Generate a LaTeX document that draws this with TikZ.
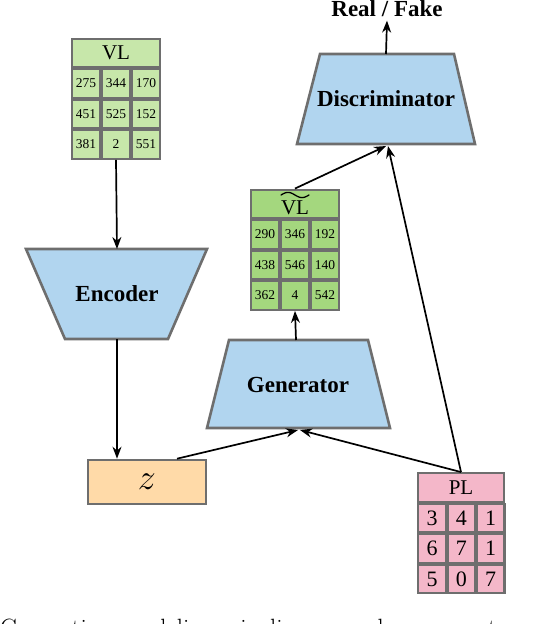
\documentclass[tikz,border=0pt]{standalone}
\usepackage{fontspec}
\usepackage{graphicx}
\setmainfont{Liberation Serif}
\newfontfamily\capfont{Latin Modern Roman}
\usetikzlibrary{arrows.meta}
\definecolor{bordergray}{HTML}{6E6E6E}
\definecolor{vlgreen}{HTML}{C7E7AA}
\definecolor{vltgreen}{HTML}{A4D77E}
\definecolor{plpink}{HTML}{F4B7C9}
\definecolor{zorange}{HTML}{FFDAA8}
\definecolor{netblue}{HTML}{B1D5EF}
\tikzset{
  cell/.style={draw=bordergray, line width=2.4pt, inner sep=0pt, minimum width=28pt, minimum height=28.5pt},
  headcell/.style={draw=bordergray, line width=2.4pt, inner sep=0pt, minimum width=88pt, minimum height=28.5pt},
  trap/.style={draw=bordergray, line width=2.6pt, fill=netblue},
  netlabel/.style={font=\bfseries\fontsize{23}{26}\selectfont},
  arr/.style={line width=1.7pt, -{Stealth[length=12pt,width=9pt]}},
}
\begin{document}
\begin{tikzpicture}[x=1pt,y=-1pt]
\useasboundingbox (0,0) rectangle (540,624);

% ---------- VL table ----------
\node[headcell, fill=vlgreen, font=\fontsize{21}{22}\selectfont] (vl) at (116,53) {VL};
\foreach \v [count=\i from 0] in {275,344,170,451,525,152,381,2,551} {
  \pgfmathtruncatemacro\c{mod(\i,3)}
  \pgfmathtruncatemacro\r{div(\i,3)}
  \node[cell, fill=vlgreen, font=\fontsize{13.5}{15}\selectfont] (vl-\i) at ({86+30*\c},{83.5+30.5*\r}) {\v};
}

% ---------- VL tilde table ----------
\node[headcell, fill=vltgreen, font=\fontsize{21}{22}\selectfont, text height=20pt, text depth=0pt] (vlt) at (295,204) {VL};
\draw[line width=1.3pt, line cap=round, shift={(295,195)}]
  plot[domain=-14:14, smooth, samples=29] (\x, {2.6*sin(\x*180/14)});
\foreach \v [count=\i from 0] in {290,346,192,438,546,140,362,4,542} {
  \pgfmathtruncatemacro\c{mod(\i,3)}
  \pgfmathtruncatemacro\r{div(\i,3)}
  \node[cell, fill=vltgreen, font=\fontsize{13.5}{15}\selectfont] (vlt-\i) at ({265+30*\c},{234.5+30.5*\r}) {\v};
}

% ---------- PL table ----------
\node[headcell, minimum width=86pt, fill=plpink, font=\fontsize{21}{22}\selectfont] (pl) at (461,487.5) {PL};
\foreach \v [count=\i from 0] in {3,4,1,6,7,1,5,0,7} {
  \pgfmathtruncatemacro\c{mod(\i,3)}
  \pgfmathtruncatemacro\r{div(\i,3)}
  \node[cell, minimum width=27.5pt, fill=plpink, font=\fontsize{22}{23}\selectfont] (pl-\i) at ({432+29.3*\c},{518+30.5*\r}) {\v};
}

% ---------- Encoder ----------
\draw[trap] (26,249) -- (207,249) -- (168,339) -- (65,339) -- cycle;
\node[netlabel] (enc) at (117,294) {Encoder};
\coordinate (enc-top) at (117,249);
\coordinate (enc-bot) at (117,339);

% ---------- Generator ----------
\draw[trap] (229,340) -- (368,340) -- (390,428) -- (207,428) -- cycle;
\node[netlabel] (gen) at (298,385) {Generator};
\coordinate (gen-top) at (296,340);
\coordinate (gen-bot) at (298,430);

% ---------- Discriminator ----------
\draw[trap] (320,54) -- (454,54) -- (475,144) -- (297,144) -- cycle;
\node[netlabel] (dis) at (386,99) {Discriminator};
\coordinate (dis-top) at (386,54);
\coordinate (dis-bot) at (386,146);

% ---------- z ----------
\node[draw=bordergray, line width=2.6pt, fill=zorange, minimum width=118pt, minimum height=44pt] (z) at (147,482) {\scalebox{1.45}{\fontsize{24}{26}\selectfont$z$}};

% ---------- Real / Fake ----------
\node[netlabel] (rf) at (387,9) {Real / Fake};

% ---------- connectors ----------
\draw[arr] (vl-7.south) -- (enc-top);
\draw[arr] (enc-bot) -- (z.north -| enc-bot);
\draw[arr] (gen-top) -- (vlt-7.south);
\draw[arr] (vlt.north) -- (dis-bot);
\draw[arr] (dis-top) -- (rf.south);
\draw[arr] ([xshift=30pt]z.north) -- (gen-bot);
\draw[arr] (pl.north) -- ([xshift=2pt]gen-bot);
\draw[arr] (pl.north) -- ([xshift=2pt]dis-bot);

% ---------- caption (cut off) ----------
\begin{scope}
\clip (0,0) rectangle (540,624);
\node[anchor=base west, inner sep=0pt, font=\capfont\fontsize{25}{28}\selectfont] (cap) at (0,636)
  {Generative\hspace{14pt}modeling\hspace{14pt}pipeline:\hspace{14pt}encoder,\hspace{14pt}generator};
\end{scope}
\end{tikzpicture}
\end{document}
